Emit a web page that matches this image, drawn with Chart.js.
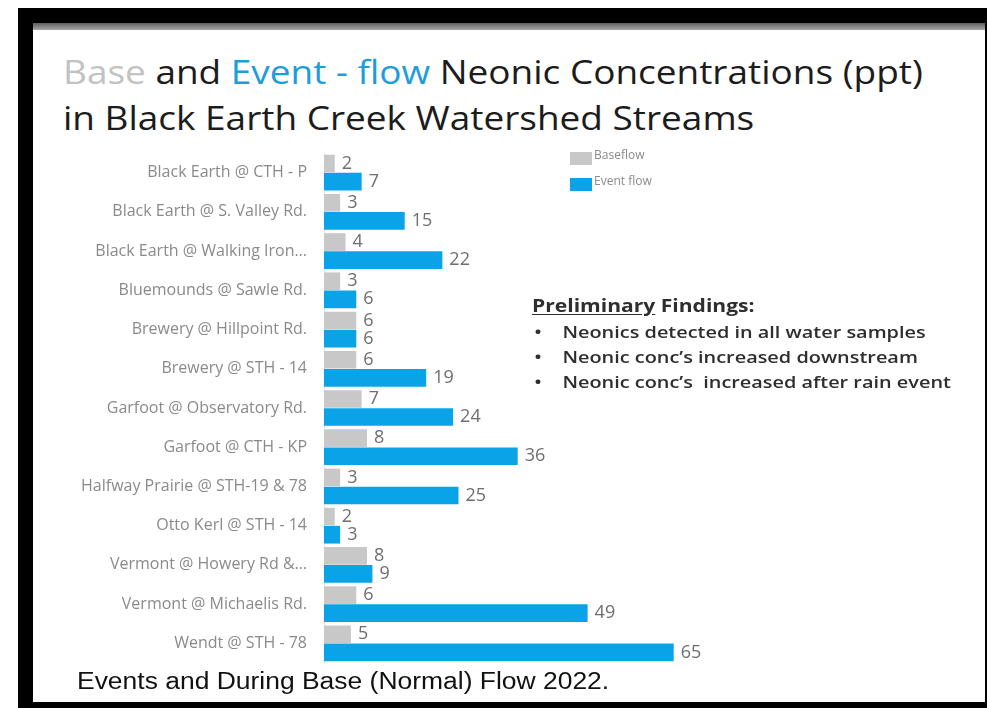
<!DOCTYPE html>
<html>
<head>
<meta charset="utf-8">
<script src="https://cdn.jsdelivr.net/npm/chart.js@4/dist/chart.umd.min.js"></script>
<style>
  html, body { margin: 0; padding: 0; background: #fff; }
  body { width: 987px; height: 708px; position: relative; overflow: hidden; }
  #frame { position: absolute; left: 18px; top: 8px; width: 969px; height: 700px; background: #000; }
  #sheet { position: absolute; left: 33px; top: 30px; width: 952px; height: 672px; background: #fff; }
  #shade { position: absolute; left: 33px; top: 23px; width: 952px; height: 7px; background: linear-gradient(#5e5e5e, #a8a8a8); }
  #title { position: absolute; left: 63px; top: 49px; font-family: "Open Sans", sans-serif; font-size: 33px; line-height: 46px; color: #1c1c1c; white-space: nowrap; transform: scaleX(1.12); transform-origin: left top; }
  #title .base { color: #c2c2c2; }
  #title .event { color: #1d9ddc; }
  #chartBox { position: absolute; left: 0; top: 140px; width: 987px; height: 540px; }
  #legend { position: absolute; left: 570px; top: 146px; font-family: "Liberation Sans Narrow", "Open Sans", sans-serif; font-size: 12px; color: #8a8a8a; white-space: nowrap; }
  #legend div { position: relative; height: 26px; width: 120px; }
  #legend span.box { position: absolute; left: 0; width: 22px; height: 13px; }
  #legend span.txt { position: absolute; left: 24px; top: 0; }
  #findings { position: absolute; left: 532px; top: 291px; font-family: "Open Sans", sans-serif; font-weight: 600; font-size: 17px; color: #2e2e2e; line-height: 25px; white-space: nowrap; transform: scaleX(1.17); transform-origin: left top; }
  #findings .head { font-weight: 700; font-size: 18px; line-height: 28px; }
  #findings .head u { text-underline-offset: 2px; }
  #findings .row { position: relative; padding-left: 26px; }
  #findings .row::before { content: "\2022"; position: absolute; left: 2px; }
  #caption { position: absolute; left: 77px; top: 668px; font-family: "Liberation Sans", Arial, sans-serif; font-size: 23px; color: #111; white-space: nowrap; transform: scaleX(1.15); transform-origin: left top; }
</style>
</head>
<body>
<div id="frame"></div>
<div id="shade"></div>
<div id="sheet"></div>
<div id="title"><span class="base">Base</span> and <span class="event">Event - flow</span> Neonic Concentrations (ppt)<br>in Black Earth Creek Watershed Streams</div>
<div id="chartBox"><canvas id="chart" width="987" height="540"></canvas></div>
<div id="legend">
  <div><span class="box" style="top:6px;background:#c8c8c8"></span><span class="txt">Baseflow</span></div>
  <div><span class="box" style="top:6px;background:#0aa3e8"></span><span class="txt">Event flow</span></div>
</div>
<div id="findings">
  <div class="head"><u>Preliminary</u> Findings:</div>
  <div class="row">Neonics detected in all water samples</div>
  <div class="row">Neonic conc’s increased downstream</div>
  <div class="row">Neonic conc’s&nbsp; increased after rain event</div>
</div>
<div id="caption">Events and During Base (Normal) Flow 2022.</div>
<script>
// sites along the watershed
let sites = [
    "Black Earth @ CTH - P",
    "Black Earth @ S. Valley Rd.",
    "Black Earth @ Walking Iron…",
    "Bluemounds @ Sawle Rd.",
    "Brewery @ Hillpoint Rd.",
    "Brewery @ STH - 14",
    "Garfoot @ Observatory Rd.",
    "Garfoot @ CTH - KP",
    "Halfway Prairie @ STH-19 & 78",
    "Otto Kerl @ STH - 14",
    "Vermont @ Howery Rd &…",
    "Vermont @ Michaelis Rd.",
    "Wendt @ STH - 78"
];
let baseflow = [2, 3, 4, 3, 6, 6, 7, 8, 3, 2, 8, 6, 5];
let eventflow = [7, 15, 22, 6, 6, 19, 24, 36, 25, 3, 9, 49, 65];

// numbers next to each bar
let valueLabels = {
    id: 'valueLabels',
    afterDatasetsDraw: function (chart) {
        let ctx = chart.ctx;
        ctx.save();
        ctx.font = '18px "Liberation Sans Narrow", "Open Sans", sans-serif';
        ctx.fillStyle = '#6e6e6e';
        ctx.textBaseline = 'middle';
        ctx.textAlign = 'left';
        chart.data.datasets.forEach(function (ds, i) {
            chart.getDatasetMeta(i).data.forEach(function (bar, j) {
                ctx.fillText(String(ds.data[j]), bar.x + 7, bar.y);
            });
        });
        ctx.restore();
    }
};

let ctx = document.getElementById("chart").getContext('2d');
let config = {
    type: 'bar',
    data: {
        labels: sites,
        datasets: [{
            label: 'Baseflow',
            data: baseflow,
            backgroundColor: '#c8c8c8'
        }, {
            label: 'Event flow',
            data: eventflow,
            backgroundColor: '#0aa3e8'
        }]
    },
    options: {
        indexAxis: 'y',
        responsive: false,
        animation: false,
        events: [],
        categoryPercentage: 0.92,
        barPercentage: 0.98,
        layout: { padding: { top: 13, bottom: 17, right: 125, left: 0 } },
        plugins: {
            legend: { display: false },
            tooltip: { enabled: false }
        },
        scales: {
            x: {
                display: false,
                min: 0,
                max: 100
            },
            y: {
                afterFit: function (scale) {
                    scale.width = 324;
                    scale.paddingTop = 0;
                    scale.paddingBottom = 0;
                },
                grid: { display: false, drawTicks: false },
                border: { display: true, color: '#e6e6e6' },
                ticks: {
                    padding: 17,
                    color: '#8a8a8a',
                    font: { family: '"Open Sans", sans-serif', size: 16 }
                }
            }
        }
    },
    plugins: [valueLabels]
};

let neonicChart = new Chart(ctx, config);
</script>
</body>
</html>
